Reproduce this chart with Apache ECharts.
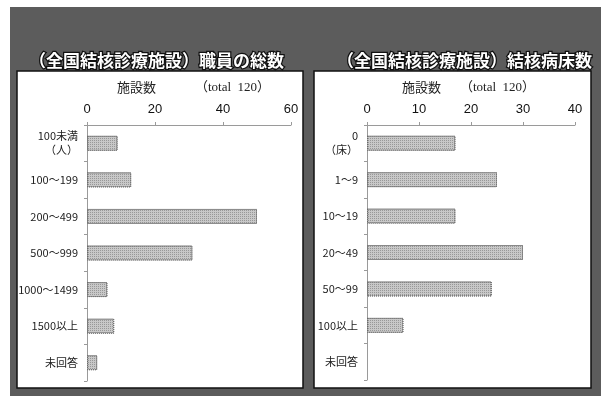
<!DOCTYPE html>
<html>
<head>
<meta charset="utf-8">
<script src="https://cdn.jsdelivr.net/npm/echarts@6/dist/echarts.min.js"></script>
<style>
html,body{margin:0;padding:0;background:#fff;}
#c{width:609px;height:396px;}
</style>
</head>
<body>
<div id="c"></div>
<script>
// ---- data ----
var staffCategories = ['100未満\n（人）', '100～199', '200～499', '500～999', '1000～1499', '1500以上', '未回答'];
var staffValues = [9, 13, 50, 31, 6, 8, 3];
var staffTicks = { min: 0, max: 60, interval: 20 };

var bedCategories = ['0\n（床）', '1～9', '10～19', '20～49', '50～99', '100以上', '未回答'];
var bedValues = [17, 25, 17, 30, 24, 7, 0];
var bedTicks = { min: 0, max: 40, interval: 10 };

var titleLeft = '（全国結核診療施設）職員の総数';
var titleRight = '（全国結核診療施設）結核病床数';
var unitLabel = '施設数';
var totalLabel = '（total  120）';

// ---- chart ----
var jp = "'Noto Sans CJK JP', sans-serif";
var chart = echarts.init(document.getElementById('c'), null, { renderer: 'canvas' });

function xAxisCfg(idx, t) {
  return {
    gridIndex: idx, type: 'value', position: 'top',
    min: t.min, max: t.max, interval: t.interval,
    axisLine: { show: true, lineStyle: { color: '#9a9a9a', width: 1 } },
    axisTick: { show: true, length: 3, lineStyle: { color: '#9a9a9a' } },
    splitLine: { show: false },
    axisLabel: { fontSize: 13, color: '#111', margin: 9, fontFamily: "'Liberation Sans', sans-serif" }
  };
}
function yAxisCfg(idx, cats) {
  return {
    gridIndex: idx, type: 'category', data: cats, inverse: true,
    axisLine: { show: true, lineStyle: { color: '#9a9a9a', width: 1 } },
    axisTick: { show: true, length: 3, lineStyle: { color: '#9a9a9a' } },
    axisLabel: { fontSize: 11, color: '#222', margin: 9, lineHeight: 14, fontFamily: jp }
  };
}
var barStyle = {
  color: '#c8c8c8',
  borderColor: '#6a6a6a',
  borderWidth: 1,
  borderType: 'dotted',
  decal: { symbol: 'rect', symbolSize: 1, color: 'rgba(80,80,80,0.4)', dashArrayX: [1, 1], dashArrayY: [1, 1], rotation: 0 }
};
function barData(vals) {
  return vals.map(function (v) {
    return v === 0 ? { value: v, itemStyle: { borderWidth: 0, opacity: 0 } } : v;
  });
}

var headStyle = { color: '#fff', fontSize: 17, fontWeight: 'bold', fontFamily: jp, textBorderColor: '#111', textBorderWidth: 2.5 };
var subStyle = { color: '#222', fontSize: 13, fontWeight: 'normal', fontFamily: jp };
var totStyle = { color: '#222', fontSize: 13, fontWeight: 'normal', fontFamily: "'Liberation Serif', 'Noto Sans CJK JP', serif" };

chart.setOption({
  backgroundColor: '#ffffff',
  animation: false,
  graphic: [
    { type: 'rect', z: -10, shape: { x: 10, y: 7, width: 591, height: 389 }, style: { fill: '#5c5c5c' } },
    { type: 'rect', z: -9, shape: { x: 17, y: 71, width: 286, height: 317 }, style: { fill: '#ffffff', stroke: '#111', lineWidth: 1.5 } },
    { type: 'rect', z: -9, shape: { x: 314, y: 71, width: 277, height: 317 }, style: { fill: '#ffffff', stroke: '#111', lineWidth: 1.5 } }
  ],
  title: [
    { text: titleLeft, left: 24, top: 47, textStyle: headStyle },
    { text: titleRight, left: 332, top: 47, textStyle: headStyle },
    { text: unitLabel, left: 112, top: 76, textStyle: subStyle },
    { text: totalLabel, left: 190, top: 76, textStyle: totStyle },
    { text: unitLabel, left: 397, top: 76, textStyle: subStyle },
    { text: totalLabel, left: 455, top: 76, textStyle: totStyle }
  ],
  grid: [
    { left: 87, top: 125, width: 204, height: 256 },
    { left: 367, top: 125, width: 208, height: 255 }
  ],
  xAxis: [xAxisCfg(0, staffTicks), xAxisCfg(1, bedTicks)],
  yAxis: [yAxisCfg(0, staffCategories), yAxisCfg(1, bedCategories)],
  series: [
    { type: 'bar', xAxisIndex: 0, yAxisIndex: 0, data: barData(staffValues), barWidth: 15, itemStyle: barStyle },
    { type: 'bar', xAxisIndex: 1, yAxisIndex: 1, data: barData(bedValues), barWidth: 15, itemStyle: barStyle }
  ]
});
</script>
</body>
</html>
